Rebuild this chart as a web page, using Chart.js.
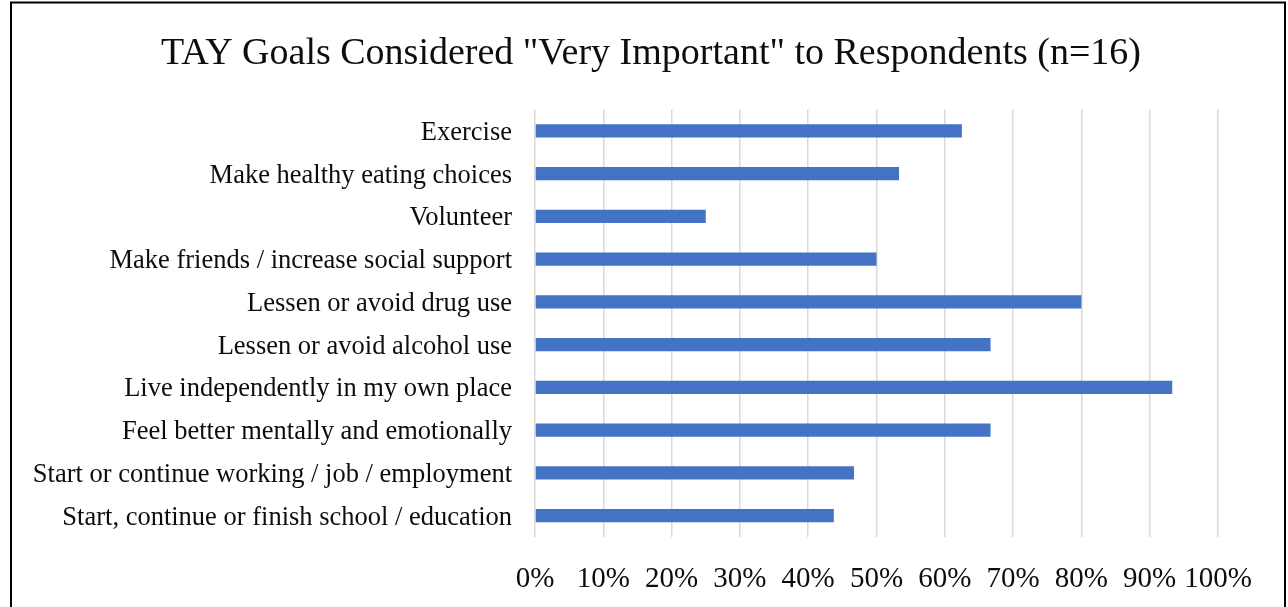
<!DOCTYPE html>
<html>
<head>
<meta charset="utf-8">
<script src="https://cdn.jsdelivr.net/npm/chart.js@4.4.0/dist/chart.umd.min.js"></script>
<style>
  html, body { margin: 0; padding: 0; background: #fff; }
  #wrap { width: 1288px; height: 607px; position: relative; }
</style>
</head>
<body>
<div id="wrap"><canvas id="goalsChart" width="1288" height="607"></canvas></div>
<script>
// goals, top to bottom as in the picture
const goals = [
    'Exercise',
    'Make healthy eating choices',
    'Volunteer',
    'Make friends / increase social support',
    'Lessen or avoid drug use',
    'Lessen or avoid alcohol use',
    'Live independently in my own place',
    'Feel better mentally and emotionally',
    'Start or continue working / job / employment',
    'Start, continue or finish school / education'
];

// share of respondents (%) rating the goal "very important"
const veryImportant = [62.5, 53.3, 25, 50, 80, 66.7, 93.3, 66.7, 46.7, 43.75];

const xTicks = [0, 10, 20, 30, 40, 50, 60, 70, 80, 90, 100];

const titleText = 'TAY Goals Considered "Very Important" to Respondents (n=16)';

//frame around the chart (left, top, right like the original)
const framePlugin = {
    id: 'frame',
    afterDraw(chart) {
        const ctx = chart.ctx;
        ctx.save();
        ctx.strokeStyle = '#000';
        ctx.lineWidth = 2;
        ctx.beginPath();
        ctx.moveTo(11, 607);
        ctx.lineTo(11, 2.5);
        ctx.lineTo(1285, 2.5);
        ctx.lineTo(1285, 607);
        ctx.stroke();
        ctx.restore();
    }
};

const cdata = {
    labels: goals,
    datasets: [{
        label: 'Very Important',
        data: veryImportant,
        backgroundColor: '#4472c4',
        borderWidth: 0,
        barPercentage: 0.31,
        categoryPercentage: 1
    }]
};

const config = {
    type: 'bar',
    data: cdata,
    plugins: [framePlugin],
    options: {
        indexAxis: 'y',
        responsive: false,
        animation: false,
        layout: {
            padding: { left: 14, right: 0, top: 0, bottom: 0 }
        },
        plugins: {
            legend: { display: false },
            tooltip: { enabled: false },
            title: {
                display: true,
                text: titleText,
                color: '#0d0d0d',
                font: { family: 'Liberation Serif', size: 38, weight: 'normal' },
                padding: { top: 31, bottom: 33 }
            }
        },
        scales: {
            x: {
                min: 0,
                max: 100,
                afterBuildTicks: (scale) => {
                    scale.ticks = xTicks.map((v) => ({ value: v }));
                },
                afterFit: (scale) => {
                    scale.height = 70;
                },
                grid: {
                    color: '#d9d9d9',
                    lineWidth: 1.5,
                    drawTicks: false
                },
                border: { display: false },
                ticks: {
                    padding: 25,
                    color: '#0d0d0d',
                    font: { family: 'Liberation Serif', size: 29 },
                    maxRotation: 0,
                    autoSkip: false,
                    callback: (v) => v + '%'
                }
            },
            y: {
                afterFit: (scale) => {
                    scale.width = 535 - 14;
                },
                grid: { display: false, drawTicks: false },
                border: { display: false },
                ticks: {
                    padding: 23,
                    labelOffset: 2,
                    color: '#0d0d0d',
                    font: { family: 'Liberation Serif', size: 26.5 },
                    autoSkip: false
                }
            },
            // empty axis on the right, only reserves the blank strip
            yRight: {
                position: 'right',
                afterFit: (scale) => {
                    scale.width = 70;
                },
                grid: { display: false, drawTicks: false },
                border: { display: false },
                ticks: { display: false }
            }
        }
    }
};

let ctx = document.getElementById('goalsChart').getContext('2d');
var myChart = new Chart(ctx, config);
</script>
</body>
</html>
